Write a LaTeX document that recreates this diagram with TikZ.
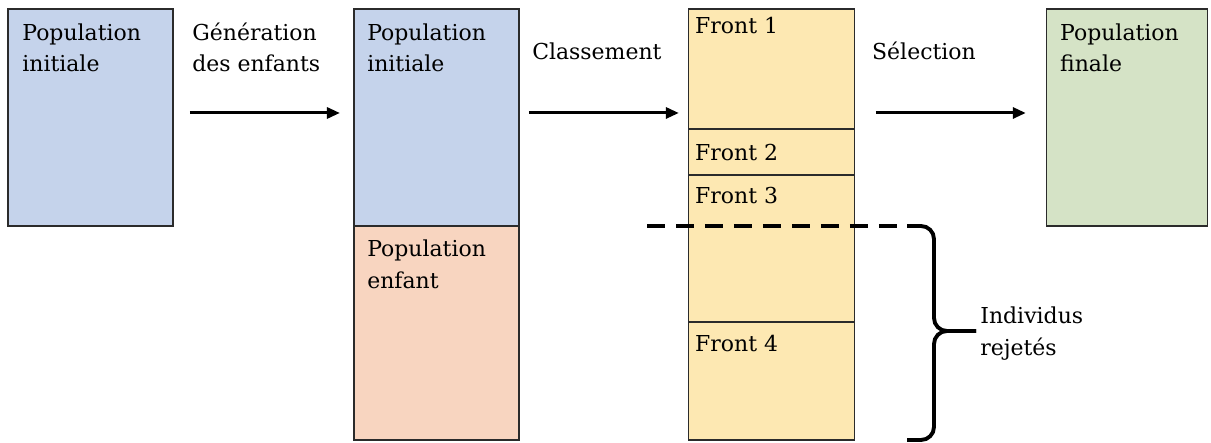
\documentclass[tikz,border=0pt]{standalone}
\usepackage{fontspec}
\setmainfont{DejaVu Serif}
\usetikzlibrary{arrows.meta,positioning}

\definecolor{popblue}{HTML}{C5D3EB}
\definecolor{popred}{HTML}{F8D5C0}
\definecolor{frontyel}{HTML}{FDE8B2}
\definecolor{popgreen}{HTML}{D5E3C6}
\definecolor{edgegray}{HTML}{2B2B2B}

\begin{document}
\begin{tikzpicture}[
        x=0.02cm, y=-0.02cm,
        popbox/.style={draw=edgegray, line width=0.7pt, outer sep=0pt, inner sep=0pt, minimum width=3.3cm},
        frontbox/.style={popbox, fill=frontyel, minimum width=3.32cm},
        boxtxt/.style={anchor=base west, align=left, inner sep=0pt, font=\fontsize{12.5pt}{18.2pt}\selectfont},
        arrow/.style={-{Triangle[length=2.6mm, width=2.2mm]}, line width=1.7pt},
        thickdash/.style={line width=2.2pt, dash pattern=on 0.36cm off 0.22cm},
        bracket/.style={line width=2.2pt, rounded corners=0.26cm}
    ]
    \useasboundingbox (0,0) rectangle (1211,443);
    % populations
    \node[popbox, fill=popblue, minimum height=4.34cm, anchor=north west] (pinit) at (8,9) {};
    \node[popbox, fill=popblue, minimum height=4.34cm, right=3.62cm of pinit] (pgen) {};
    \node[popbox, fill=popred, minimum height=4.28cm, below=0pt of pgen] (penf) {};
    % fronts
    \node[frontbox, minimum height=2.4cm, right=3.4cm of pgen.north east, anchor=north west] (f1) {};
    \node[frontbox, minimum height=0.92cm, below=0pt of f1] (f2) {};
    \node[frontbox, minimum height=2.94cm, below=0pt of f2] (f3) {};
    \node[frontbox, minimum height=2.36cm, below=0pt of f3] (f4) {};
    \node[popbox, fill=popgreen, minimum width=3.22cm, minimum height=4.34cm, right=3.84cm of f1.north east, anchor=north west] (pfin) {};

    % texts in boxes (base = last line)
    \node[boxtxt, xshift=0.28cm, yshift=-1.26cm] (tinit) at (pinit.north west) {Population\\initiale};
    \node[boxtxt, xshift=0.26cm, yshift=-1.26cm] (tgen) at (pgen.north west) {Population\\initiale};
    \node[boxtxt, xshift=0.26cm, yshift=-1.26cm] (tenf) at (penf.north west) {Population\\enfant};
    \node[boxtxt, xshift=0.12cm, yshift=-0.5cm] (tf1) at (f1.north west) {Front 1};
    \node[boxtxt, xshift=0.12cm, yshift=-0.64cm] (tf2) at (f2.north west) {Front 2};
    \node[boxtxt, xshift=0.12cm, yshift=-0.58cm] (tf3) at (f3.north west) {Front 3};
    \node[boxtxt, xshift=0.12cm, yshift=-0.6cm] (tf4) at (f4.north west) {Front 4};
    \node[boxtxt, xshift=0.26cm, yshift=-1.26cm] (tfin) at (pfin.north west) {Population\\finale};

    % steps
    \node[boxtxt] (lgen) at ([xshift=0.38cm, yshift=0.91cm]pinit.east) {Génération\\des enfants};
    \node[boxtxt] (lcls) at ([xshift=0.26cm, yshift=1.15cm]pgen.east) {Classement};
    \node[boxtxt] (lsel) at ([xshift=-3.5cm, yshift=1.15cm]pfin.west) {Sélection};

    \draw[arrow] ([xshift=0.34cm, yshift=0.09cm]pinit.east) -- ([xshift=-0.28cm, yshift=0.09cm]pgen.west);
    \draw[arrow] ([xshift=0.2cm, yshift=0.09cm]pgen.east) -- ([xshift=-0.2cm, yshift=0.09cm]pgen.east -| f1.west);
    \draw[arrow] ([xshift=0.42cm, yshift=0.09cm]pfin.west -| f1.east) -- ([xshift=-0.42cm, yshift=0.09cm]pfin.west);

    % cut and rejected ones
    \coordinate (cutL) at (647,226);
    \coordinate (brTop) at (907,226);
    \coordinate (brBot) at (907,440);
    \draw[thickdash] (cutL) -- (brTop);
    \draw[bracket] (brTop) -- ++(27,0) -- ++(0,105) -- ++(42,0);
    \draw[bracket] (brBot) -- ++(27,0) -- ++(0,-109) -- ++(42,0);
    \node[boxtxt] (rej) at (980,355) {Individus\\rejetés};
\end{tikzpicture}
\end{document}
